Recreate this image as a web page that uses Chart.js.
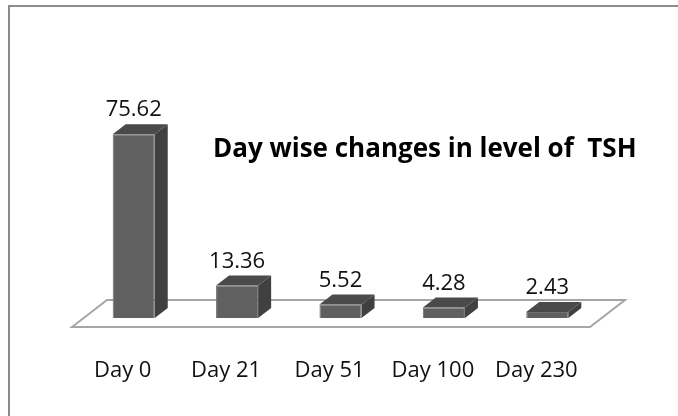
<!DOCTYPE html>
<html>
<head>
<meta charset="utf-8">
<script src="https://cdn.jsdelivr.net/npm/chart.js@4.4.0/dist/chart.umd.min.js"></script>
<style>
  html, body { margin: 0; padding: 0; background: #ffffff; overflow: hidden; }
  #wrap { position: relative; width: 678px; height: 416px; }
</style>
</head>
<body>
<div id="wrap"><canvas id="grafico-tsh"></canvas></div>
<script>
// dados
const categorias = ["Day 0", "Day 21", "Day 51", "Day 100", "Day 230"];
const valoresTSH = [75.62, 13.36, 5.52, 4.28, 2.43];
const titulo = "Day wise changes in level of  TSH";

// profundidade do efeito 3D
const profX = 13;
const profY = 10;

const plugin3D = {
  id: "barras3d",
  beforeDraw(chart) {
    const ctx = chart.ctx;
    ctx.save();
    // moldura
    ctx.strokeStyle = "#8c8c8c";
    ctx.lineWidth = 2;
    ctx.strokeRect(9, 6, 720, 460);
    ctx.restore();
  },
  beforeDatasetsDraw(chart) {
    const ctx = chart.ctx;
    const x = chart.scales.x;
    const base = chart.scales.y.getPixelForValue(0);
    // piso
    const frente = base + 9;
    const fundo = base - 18;
    const esq = x.left - 10;
    const dir = x.right - 9;
    ctx.save();
    ctx.beginPath();
    ctx.moveTo(esq, frente);
    ctx.lineTo(esq + 35, fundo);
    ctx.lineTo(dir + 35, fundo);
    ctx.lineTo(dir, frente);
    ctx.closePath();
    ctx.fillStyle = "#ffffff";
    ctx.fill();
    ctx.strokeStyle = "#a6a6a6";
    ctx.lineWidth = 2;
    ctx.stroke();
    ctx.restore();
  },
  afterDatasetsDraw(chart) {
    const ctx = chart.ctx;
    const meta = chart.getDatasetMeta(0);
    ctx.save();
    meta.data.forEach((bar, i) => {
      const l = bar.x - bar.width / 2;
      const r = bar.x + bar.width / 2;
      const topo = bar.y;
      const base = bar.base;
      // lateral
      ctx.beginPath();
      ctx.moveTo(r, topo);
      ctx.lineTo(r + profX, topo - profY);
      ctx.lineTo(r + profX, base - profY);
      ctx.lineTo(r, base);
      ctx.closePath();
      ctx.fillStyle = "#404040";
      ctx.fill();
      // topo
      ctx.beginPath();
      ctx.moveTo(l, topo);
      ctx.lineTo(l + profX, topo - profY);
      ctx.lineTo(r + profX, topo - profY);
      ctx.lineTo(r, topo);
      ctx.closePath();
      ctx.fillStyle = "#4a4a4a";
      ctx.fill();
      // rótulo de valor
      ctx.fillStyle = "#111111";
      ctx.font = "22px 'Open Sans'";
      ctx.textAlign = "center";
      ctx.textBaseline = "alphabetic";
      ctx.fillText(valoresTSH[i].toFixed(2), bar.x, topo - profY - 8);
      // rótulo da categoria
      ctx.fillText(categorias[i], bar.x - 11, 377);
    });
    // título
    ctx.font = "bold 26px 'Open Sans'";
    ctx.textAlign = "left";
    ctx.fillStyle = "#000000";
    ctx.fillText(titulo, 213, 157);
    ctx.restore();
  }
};

const ctx = document.getElementById("grafico-tsh").getContext("2d");
new Chart(ctx, {
  type: "bar",
  data: {
    labels: categorias,
    datasets: [
      {
        data: valoresTSH,
        backgroundColor: "#606060",
        borderColor: "#707070",
        borderWidth: 1,
        categoryPercentage: 1,
        barPercentage: 0.407
      }
    ]
  },
  options: {
    responsive: true,
    maintainAspectRatio: false,
    animation: false,
    layout: {
      padding: { left: 82, right: 79, top: 75, bottom: 98 }
    },
    plugins: {
      legend: { display: false },
      tooltip: { enabled: false },
      title: { display: false }
    },
    scales: {
      x: { display: false, offset: true },
      y: { display: false, min: 0, max: 100 }
    }
  },
  plugins: [plugin3D]
});
</script>
</body>
</html>
